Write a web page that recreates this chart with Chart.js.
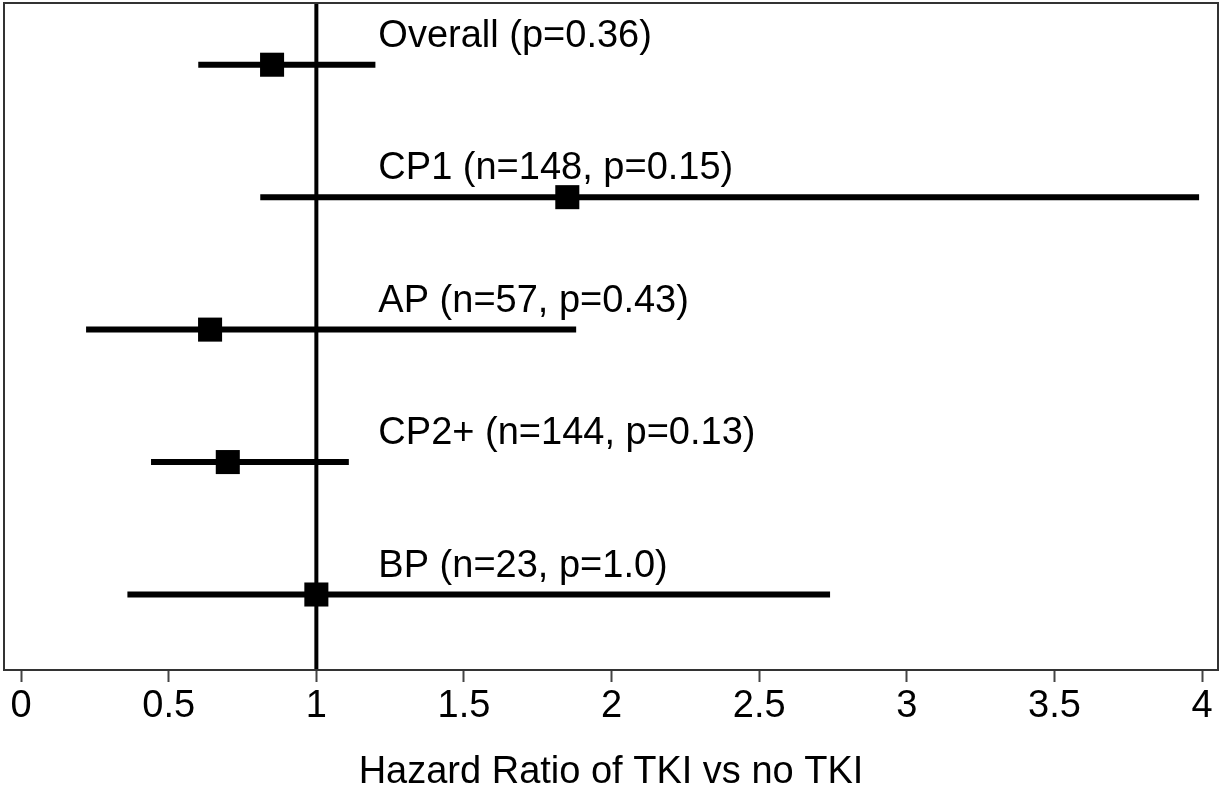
<!DOCTYPE html>
<html>
<head>
<meta charset="utf-8">
<script src="https://cdn.jsdelivr.net/npm/chart.js@4"></script>
<style>
  html, body { margin: 0; padding: 0; background: #fff; }
  #wrap { width: 1225px; height: 792px; }
</style>
</head>
<body>
<div id="wrap"><canvas id="myChart"></canvas></div>
<script>
// Subgroups, top to bottom
const groups = ['Overall (p=0.36)', 'CP1 (n=148, p=0.15)', 'AP (n=57, p=0.43)', 'CP2+ (n=144, p=0.13)', 'BP (n=23, p=1.0)'];
// Hazard ratio point estimates
const hazardRatios = [0.85, 1.85, 0.64, 0.70, 1.00];
// Confidence interval bounds
const ciLower = [0.60, 0.81, 0.22, 0.44, 0.36];
const ciUpper = [1.20, 3.99, 1.88, 1.11, 2.74];
// X axis tick labels
const xTicks = [0, 0.5, 1, 1.5, 2, 2.5, 3, 3.5, 4];

const FONT = '"Liberation Sans", Arial, Helvetica, sans-serif';

// Build the CI segments, one per row, separated by gaps
const ciPoints = [];
groups.forEach((g, i) => {
    ciPoints.push({ x: ciLower[i], y: i });
    ciPoints.push({ x: ciUpper[i], y: i });
    ciPoints.push({ x: NaN, y: NaN });
});
const estPoints = hazardRatios.map((hr, i) => ({ x: hr, y: i }));

// Frame around the plot area + row labels
const framePlugin = {
    id: 'frame',
    beforeDatasetsDraw(chart) {
        const { ctx, chartArea, scales } = chart;
        ctx.save();
        // reference line at HR = 1
        const x1 = scales.x.getPixelForValue(1);
        ctx.strokeStyle = '#000';
        ctx.lineWidth = 4;
        ctx.beginPath();
        ctx.moveTo(x1, chartArea.top);
        ctx.lineTo(x1, chartArea.bottom);
        ctx.stroke();
        ctx.restore();
    },
    afterDatasetsDraw(chart) {
        const { ctx, chartArea, scales } = chart;
        ctx.save();
        ctx.strokeStyle = '#333';
        ctx.lineWidth = 2;
        ctx.strokeRect(chartArea.left, chartArea.top, chartArea.width, chartArea.height);
        ctx.fillStyle = '#000';
        ctx.font = '38px ' + FONT;
        ctx.textAlign = 'left';
        ctx.textBaseline = 'middle';
        groups.forEach((g, i) => {
            ctx.fillText(g, scales.x.getPixelForValue(1.21), scales.y.getPixelForValue(i - 0.215));
        });
        ctx.restore();
    }
};

const ctx = document.getElementById('myChart');
new Chart(ctx, {
    type: 'scatter',
    data: {
        datasets: [{
            type: 'line',
            data: ciPoints,
            borderColor: '#000',
            borderWidth: 6,
            pointRadius: 0,
            spanGaps: false,
            borderCapStyle: 'butt'
        }, {
            data: estPoints,
            pointStyle: 'rect',
            pointRadius: 17,
            pointHoverRadius: 17,
            backgroundColor: '#000',
            borderColor: '#000',
            borderWidth: 0
        }]
    },
    options: {
        responsive: true,
        maintainAspectRatio: false,
        animation: false,
        events: [],
        layout: { autoPadding: false, padding: { left: 4, right: 7, top: 3, bottom: 0 } },
        plugins: {
            legend: { display: false },
            tooltip: { enabled: false }
        },
        scales: {
            x: {
                type: 'linear',
                min: -0.058,
                max: 4.054,
                afterBuildTicks: axis => { axis.ticks = xTicks.map(v => ({ value: v })); },
                grid: {
                    drawOnChartArea: false,
                    drawTicks: true,
                    tickLength: 12,
                    tickWidth: 2,
                    tickColor: '#444'
                },
                border: { display: false },
                ticks: {
                    color: '#000',
                    padding: 6,
                    maxRotation: 0,
                    autoSkip: false,
                    font: { family: FONT, size: 38, lineHeight: 1.0 },
                    callback: v => String(v)
                },
                title: {
                    display: true,
                    text: 'Hazard Ratio of TKI vs no TKI',
                    color: '#000',
                    padding: { top: 22, bottom: 0 },
                    font: { family: FONT, size: 38, lineHeight: 1.0 }
                }
            },
            y: {
                type: 'linear',
                display: false,
                reverse: true,
                min: -0.466,
                max: 4.57
            }
        }
    },
    plugins: [framePlugin]
});
</script>
</body>
</html>
